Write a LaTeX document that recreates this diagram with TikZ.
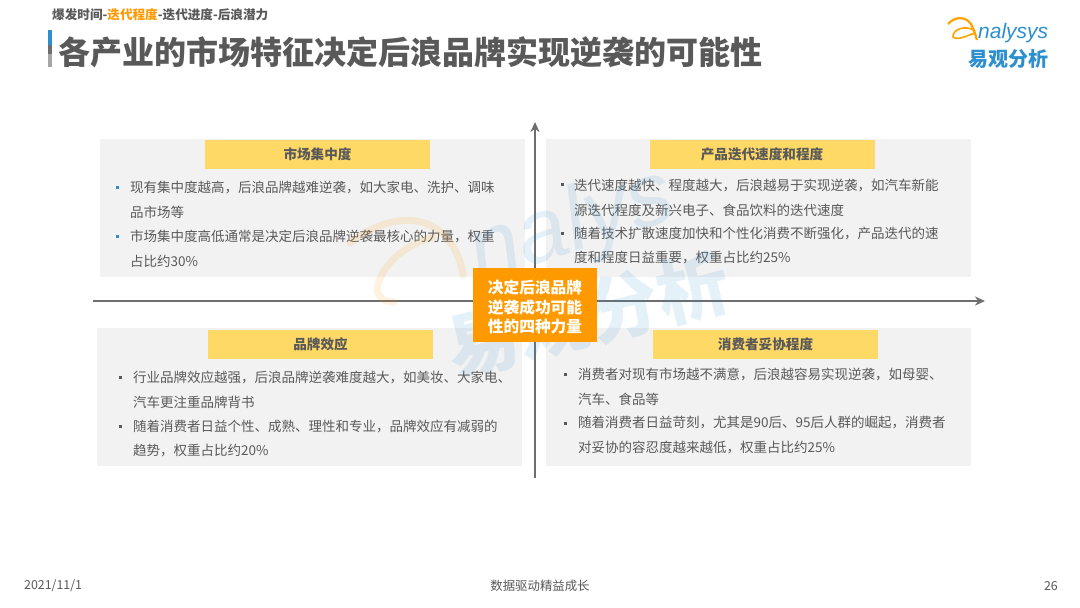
\documentclass[tikz,border=0pt]{standalone}
\usepackage{fontspec}
\setmainfont{Noto Sans CJK SC}
\newfontfamily\latinf{Liberation Sans}
\newcommand{\fs}[1]{\fontsize{#1}{#1}\selectfont}
\newcommand{\qc}{\char"FF0C\relax}
\definecolor{txt}{HTML}{595959}
\definecolor{panel}{HTML}{F2F2F2}
\definecolor{head}{HTML}{FFD966}
\definecolor{org}{HTML}{FF9900}
\definecolor{axisc}{HTML}{6E6E6E}
\definecolor{brand}{HTML}{2E8FCF}
\usetikzlibrary{arrows.meta}
\tikzset{x=1pt,y=-1pt,
 panelbox/.style={fill=panel,draw=none,inner sep=0pt,minimum height=138pt,minimum width=425pt,anchor=north west},
 headbox/.style={fill=head,draw=none,inner sep=0pt,minimum height=29pt,minimum width=225pt,text=txt,font=\fs{13.6}\bfseries},
 line/.style={anchor=west,inner sep=0pt,yshift=-1pt,text=txt,font=\fs{13.5}},
 dotb/.style={fill=#1,draw=none,inner sep=0pt,minimum size=3pt},
 dotb/.default=txt,
 foot/.style={inner sep=0pt,text=txt,font=\fs{12.4}},
 axisline/.style={draw=axisc,line width=1.8pt,-{Stealth[length=10pt,width=9pt]}},
}
\begin{document}
\begin{tikzpicture}
\useasboundingbox (0,0) rectangle (1080,608);
\fill[white] (0,0) rectangle (1080,608);
% panels
\node[panelbox] (p1) at (100,139) {};
\node[panelbox] (p2) at (546,139) {};
\node[panelbox] (p3) at (97,328) {};
\node[panelbox] (p4) at (546,328) {};
% axes
\coordinate (xs) at (93,301); \coordinate (xe) at (985,301);
\coordinate (ys) at (535,478); \coordinate (ye) at (535,122);
\draw[axisline] (xs) -- (xe);
\draw[axisline] (ys) -- (ye);
% headers
\node[headbox] (h1) at (317.5,154) {市场集中度};
\node[headbox] (h2) at (762,154) {产品迭代速度和程度};
\node[headbox] (h3) at (320.5,344) {品牌效应};
\node[headbox] (h4) at (765.5,344) {消费者妥协程度};
% panel 1
\node[dotb=brand] (a0) at (117,187) {};
\node[line] (a1) at (130,186) {现有集中度越高\qc 后浪品牌越难逆袭\qc 如大家电、洗护、调味};
\node[line] (a2) at (130,211) {品市场等};
\node[dotb=brand] (a3) at (117,236) {};
\node[line] (a4) at (130,235) {市场集中度高低通常是决定后浪品牌逆袭最核心的力量\qc 权重};
\node[line] (a5) at (130,260) {占比约30\%};
% panel 2
\node[dotb] (b0) at (562,184) {};
\node[line] (b1) at (574,184) {迭代速度越快、程度越大\qc 后浪越易于实现逆袭\qc 如汽车新能};
\node[line] (b2) at (574,209) {源迭代程度及新兴电子、食品饮料的迭代速度};
\node[dotb] (b3) at (562,233) {};
\node[line] (b4) at (574,233) {随着技术扩散速度加快和个性化消费不断强化\qc 产品迭代的速};
\node[line] (b5) at (574,257) {度和程度日益重要\qc 权重占比约25\%};
% panel 3
\node[dotb] (c0) at (120,377) {};
\node[line] (c1) at (133,376) {行业品牌效应越强\qc 后浪品牌逆袭难度越大\qc 如美妆、大家电、};
\node[line] (c2) at (133,401) {汽车更注重品牌背书};
\node[dotb] (c3) at (120,426) {};
\node[line] (c4) at (133,425) {随着消费者日益个性、成熟、理性和专业\qc 品牌效应有减弱的};
\node[line] (c5) at (133,450) {趋势\qc 权重占比约20\%};
% panel 4
\node[dotb] (d0) at (565,374) {};
\node[line] (d1) at (578,373) {消费者对现有市场越不满意\qc 后浪越容易实现逆袭\qc 如母婴、};
\node[line] (d2) at (578,398) {汽车、食品等};
\node[dotb] (d3) at (565,423) {};
\node[line] (d4) at (578,422) {随着消费者日益苛刻\qc 尤其是90后、95后人群的崛起\qc 消费者};
\node[line] (d5) at (578,447) {对妥协的容忍度越来越低\qc 权重占比约25\%};
% watermark
\begin{scope}[opacity=.12]
\draw[org,line width=7pt,line cap=round] (350,243) .. controls (385,215) and (430,210) .. (452,245) .. controls (460,258) and (462,268) .. (463,275);
\draw[org,line width=7pt,line cap=round] (433,237) .. controls (405,245) and (380,265) .. (377,290) .. controls (378,298) and (385,302) .. (394,302);
\node[text=brand,rotate=18,font=\latinf\fs{90}\itshape,inner sep=0pt] (w1) at (572,228) {nalys};
\node[text=brand,rotate=14,font=\fs{72}\bfseries,inner sep=0pt] (w2) at (588,315) {易观分析};
\end{scope}
% centre
\node[fill=org,inner sep=0pt,minimum width=124pt,minimum height=74pt] (c) at (535,305) {};
\node[text=white,inner sep=0pt,align=center,font=\fontsize{15.7}{19.5}\selectfont\bfseries] (ct) at (c.center) [yshift=-2pt] {决定后浪品牌\\逆袭成功可能\\性的四种力量};
% header
\node[anchor=west,inner sep=0pt,font=\fs{12.6}\bfseries,text=txt] (tag) at (52,15) {爆发时间-{\color{org}迭代程度}-迭代进度-后浪潜力};
\fill[brand] (48,30) rectangle (52,45);
\fill[axisc] (48,45) rectangle (52,54);
\fill[gray!70] (48,54) rectangle (52,67);
\node[anchor=west,inner sep=0pt,font=\fs{32}\bfseries,text=txt] (title) at (58,52) {各产业的市场特征决定后浪品牌实现逆袭的可能性};
% logo
\draw[org!90!yellow,line width=2.2pt] (948,24) .. controls (955,16) and (968,15) .. (973,28) .. controls (975,33) and (976,37) .. (977,40);
\draw[org!90!yellow,line width=1.6pt] (975,31) .. controls (965,24) and (952,30) .. (953,37) .. controls (958,41) and (968,35) .. (975,33);
\node[anchor=west,inner sep=0pt,font=\latinf\fs{21}\itshape,text=brand] (lg1) at (978,33) {nalysys};
\node[anchor=west,inner sep=0pt,font=\fs{20}\bfseries,text=brand] (lg2) at (968,59) {易观分析};
% footer
\node[foot,anchor=west] (f1) at (24,586) {2021/11/1};
\node[foot] (f2) at (540,586) {数据驱动精益成长};
\node[foot,anchor=east] (f3) at (1058,586) {26};
\end{tikzpicture}
\end{document}
